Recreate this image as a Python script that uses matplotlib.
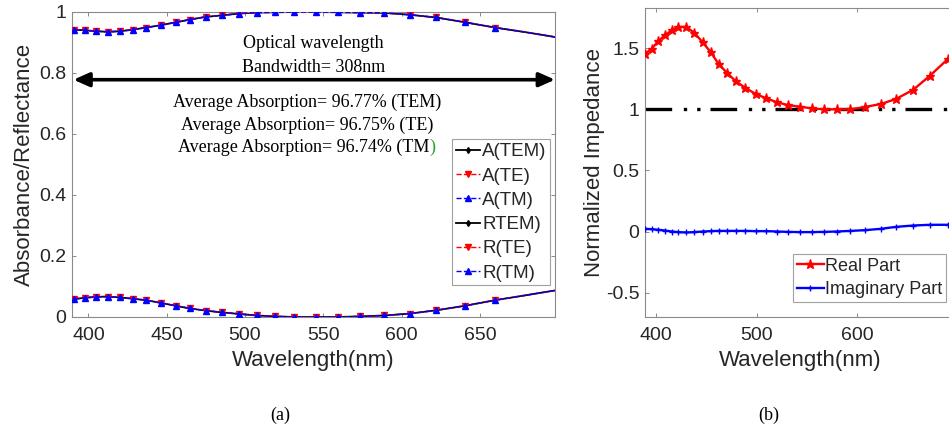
import matplotlib
matplotlib.use("Agg")
import matplotlib.pyplot as plt
from matplotlib.lines import Line2D

# ---------------- data ----------------
wl_a = [391.0, 397.9, 405.0, 412.4, 420.3, 428.2, 437.0, 446.4, 455.6, 464.7,
        474.8, 485.4, 496.2, 507.5, 519.2, 531.6, 545.3, 559.2, 573.7, 589.1,
        605.1, 622.2, 640.8, 659.6, 679.0, 698.0]
A_tem = [0.942, 0.940, 0.937, 0.935, 0.937, 0.942, 0.949, 0.957, 0.966, 0.975,
         0.984, 0.989, 0.995, 0.998, 0.999, 1.000, 1.000, 0.999, 0.998, 0.997,
         0.991, 0.982, 0.966, 0.949, 0.934, 0.918]
A_te = list(A_tem)
A_tm = list(A_tem)
R_tem = [0.059, 0.063, 0.066, 0.067, 0.064, 0.060, 0.055, 0.046, 0.037, 0.028,
         0.021, 0.015, 0.010, 0.005, 0.002, 0.000, 0.000, 0.000, 0.002, 0.005,
         0.011, 0.022, 0.037, 0.055, 0.071, 0.087]
R_te = list(R_tem)
R_tm = list(R_tem)

wl_b = [389.1, 395.7, 402.3, 408.9, 415.5, 422.1, 429.7, 437.9, 446.2, 454.1,
        462.0, 470.3, 479.2, 488.8, 499.0, 509.6, 520.1, 531.0, 542.6, 554.8,
        567.3, 579.5, 593.1, 607.6, 623.4, 638.3, 655.4, 672.3, 690.1, 698.0]
z_real = [1.455, 1.497, 1.560, 1.607, 1.647, 1.675, 1.675, 1.628, 1.550, 1.470,
          1.373, 1.300, 1.230, 1.175, 1.126, 1.090, 1.058, 1.035, 1.022, 1.008,
          1.000, 1.000, 1.000, 1.020, 1.044, 1.085, 1.160, 1.277, 1.414, 1.480]
z_imag = [0.022, 0.019, 0.014, 0.008, 0.000, -0.005, -0.008, -0.005, 0.000, 0.003,
          0.005, 0.005, 0.005, 0.005, 0.003, 0.003, 0.000, -0.003, -0.005, -0.005,
          -0.003, 0.000, 0.005, 0.011, 0.022, 0.038, 0.049, 0.055, 0.055, 0.055]

xticks_a = [400, 450, 500, 550, 600, 650]
yticks_a = [0, 0.2, 0.4, 0.6, 0.8, 1]
yticklabels_a = ["0", "0.2", "0.4", "0.6", "0.8", "1"]
xticks_b = [400, 500, 600]
yticks_b = [-0.5, 0, 0.5, 1, 1.5]
yticklabels_b = ["-0.5", "0", "0.5", "1", "1.5"]

# ---------------- style ----------------
sans = "Liberation Sans"
serif = "Liberation Serif"
tc = "#262626"
spc = "#8a8a8a"

fig = plt.figure(figsize=(9.49, 4.30), dpi=100)
fig.patch.set_facecolor("white")

ax = fig.add_axes([0.0759, 0.2628, 0.5089, 0.7093])
axb = fig.add_axes([0.6797, 0.2628, 0.3277, 0.7186])

def style(a):
    for s in a.spines.values():
        s.set_color(spc)
        s.set_linewidth(0.8)
    a.tick_params(direction="in", length=3, width=0.7, color=spc,
                  top=True, right=True, labelsize=14, labelcolor=tc)
    a.tick_params(axis="x", pad=7)
    a.tick_params(axis="y", pad=4)
    for lab in a.get_xticklabels() + a.get_yticklabels():
        lab.set_fontfamily(sans)

# ---- panel (a) ----
mk_every = slice(0, -2)
for yv in (A_tem, R_tem):
    ax.plot(wl_a, yv, "-", color="black", lw=1.3, marker="d", ms=3,
            markevery=mk_every, zorder=2)
for yv in (A_te, R_te):
    ax.plot(wl_a, yv, "--", color="red", lw=1.0, marker="v", ms=5,
            markevery=mk_every, zorder=3)
for yv in (A_tm, R_tm):
    ax.plot(wl_a, yv, "--", color="blue", lw=1.0, marker="^", ms=5,
            markevery=mk_every, zorder=4)

ax.set_xlim(389.5, 698)
ax.set_ylim(0, 1)
ax.set_xticks(xticks_a)
ax.set_yticks(yticks_a)
ax.set_yticklabels(yticklabels_a)
style(ax)
ax.set_xlabel("Wavelength(nm)", fontsize=16, family=sans, color=tc)
ax.set_ylabel("Absorbance/Reflectance", fontsize=16, family=sans, color=tc)
ax.xaxis.set_label_coords(0.5, -0.108)
ax.yaxis.set_label_coords(-0.077, 0.5)

ax.annotate("", xy=(390.4, 0.778), xytext=(698, 0.778),
            arrowprops=dict(arrowstyle="<|-|>,head_length=0.45,head_width=0.2",
                            lw=2.6, color="black", mutation_scale=21,
                            shrinkA=0, shrinkB=0), zorder=5)
ax.text(543.6, 0.897, "Optical wavelength", fontsize=13, family=serif,
        ha="center", va="center", color="black")
ax.text(543.6, 0.819, "Bandwidth= 308nm", fontsize=13, family=serif,
        ha="center", va="center", color="black")
ax.text(539.7, 0.704, "Average Absorption= 96.77% (TEM)", fontsize=13,
        family=serif, ha="center", va="center", color="black")
ax.text(539.7, 0.630, "Average Absorption= 96.75% (TE)", fontsize=13,
        family=serif, ha="center", va="center", color="black")
t3 = ax.text(537.5, 0.556, "Average Absorption= 96.74% (TM", fontsize=13,
             family=serif, ha="center", va="center", color="black")
ax.annotate(")", xy=(1, 0), xycoords=t3, va="bottom", ha="left",
            fontsize=13, family=serif, color="#2ca02c")

handles_a = [
    Line2D([], [], color="black", ls="-", lw=1.3, marker="d", ms=3),
    Line2D([], [], color="red", ls="--", lw=1.0, marker="v", ms=5),
    Line2D([], [], color="blue", ls="--", lw=1.0, marker="^", ms=5),
    Line2D([], [], color="black", ls="-", lw=1.3, marker="d", ms=3),
    Line2D([], [], color="red", ls="--", lw=1.0, marker="v", ms=5),
    Line2D([], [], color="blue", ls="--", lw=1.0, marker="^", ms=5),
]
labels_a = ["A(TEM)", "A(TE)", "A(TM)", "RTEM)", "R(TE)", "R(TM)"]
leg = ax.legend(handles_a, labels_a, loc="upper left",
                bbox_to_anchor=(0.787, 0.582), borderaxespad=0,
                prop={"family": sans, "size": 13.5}, frameon=True, fancybox=False,
                borderpad=0.2, labelspacing=0.38, handlelength=1.3,
                handletextpad=0.1)
leg.get_frame().set_edgecolor(spc)
leg.get_frame().set_linewidth(0.8)
for t in leg.get_texts():
    t.set_color(tc)

# ---- panel (b) ----
axb.axhline(1.0, color="black", lw=2.4, ls=(0, (8, 3.5, 1, 3, 1, 3)), zorder=2)
axb.plot(wl_b, z_real, "-", color="red", lw=1.7, marker="*", ms=6.5,
         markevery=slice(0, -1), zorder=3, label="Real Part")
axb.plot(wl_b, z_imag, "-", color="blue", lw=1.7, marker="+", ms=4,
         markevery=slice(0, -1), zorder=3, label="Imaginary Part")
axb.set_xlim(389, 698)
axb.set_ylim(-0.7, 1.83)
axb.set_xticks(xticks_b)
axb.set_yticks(yticks_b)
axb.set_yticklabels(yticklabels_b)
style(axb)
axb.set_xlabel("Wavelength(nm)", fontsize=16, family=sans, color=tc)
axb.set_ylabel("Normalized Impedance", fontsize=16, family=sans, color=tc)
axb.xaxis.set_label_coords(0.5, -0.107)
axb.yaxis.set_label_coords(-0.13, 0.5)

legb = axb.legend(loc="upper left", bbox_to_anchor=(0.476, 0.204),
                  borderaxespad=0, prop={"family": sans, "size": 13},
                  frameon=True, fancybox=False, borderpad=0.2,
                  labelspacing=0.35, handlelength=1.5, handletextpad=0.08)
legb.get_frame().set_edgecolor(spc)
legb.get_frame().set_linewidth(0.8)
for t in legb.get_texts():
    t.set_color(tc)

# captions
fig.text(0.295, 0.035, "(a)", fontsize=13, family=serif, ha="center",
         va="center", color="black")
fig.text(0.810, 0.035, "(b)", fontsize=13, family=serif, ha="center",
         va="center", color="black")

fig.savefig("out.png", dpi=100, facecolor="white")
